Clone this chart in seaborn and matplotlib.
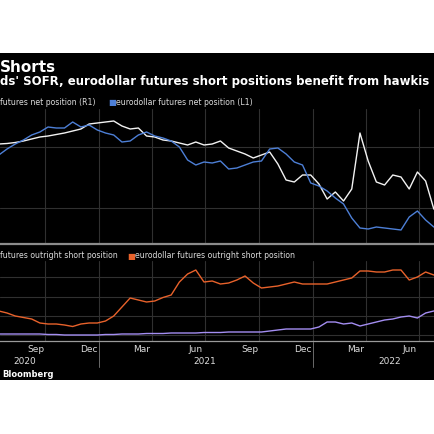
import pandas as pd
import matplotlib
matplotlib.use("Agg")
import matplotlib.pyplot as plt
import matplotlib.patches as mpatches
import matplotlib.transforms as mtransforms
import seaborn as sns

# ------------------------------------------------------------
# data (bi-weekly CFTC readings)
# ------------------------------------------------------------
dates = pd.date_range("2020-07-14", periods=55, freq="14D")

# top panel: net positions
sofr_net = [100, 100.5, 101.5, 103, 105, 107, 108, 109.5, 111, 113, 115, 120, 121, 122,
            123, 118, 115, 116, 108, 107, 104, 103, 101, 99, 102, 99, 100, 103, 96, 93,
            90, 86, 89, 92, 80, 64, 62, 69, 69, 60, 45, 52, 43, 55, 111, 83, 62, 59, 69,
            67, 55, 72, 63, 35, 31]
ed_net = [89, 95, 100, 104, 109, 112, 117, 116, 116, 122, 117, 119, 114, 111, 109, 102,
          103, 109, 112, 108, 106, 103, 97, 84, 79, 82, 81, 83, 75, 76, 79, 82, 83, 95,
          96, 90, 82, 79, 61, 58, 53, 46, 40, 26, 16, 15, 17, 16, 15, 14, 27, 33, 24, 17, 19]

# bottom panel: outright short positions
sofr_short = [7, 7, 7, 7, 7, 7, 6.5, 6.5, 6, 6, 6, 6, 6, 6.5, 6.5, 7, 7, 7, 7.5, 7.5, 7.5,
              8, 8, 8, 8, 8.5, 8.5, 8.5, 9, 9, 9, 9, 9, 10, 11, 12, 12, 12, 12, 14, 19, 19,
              17, 18, 15, 17, 19, 21, 22, 24, 25, 23, 28, 30, 31]
ed_short = [30, 28, 25, 23.5, 22, 18, 17, 17, 16, 14.5, 17, 18, 18, 20, 25, 34, 43, 41, 39,
            40, 43.5, 46, 59, 67, 71, 59, 60, 57, 58, 61, 65, 58, 53, 54, 55, 57, 59, 57,
            57, 57, 57, 59, 61, 63, 70, 70, 69, 69, 71, 71, 61, 64, 69, 66, 66]

top_grid = [36, 97]
bot_grid = [6, 25, 44.5, 64]

quarter_lines = pd.to_datetime(["2020-10-01", "2021-01-01", "2021-04-01", "2021-07-01",
                                "2021-10-01", "2022-01-01", "2022-04-01", "2022-07-01"])
month_labels = ["Sep", "Dec", "Mar", "Jun", "Sep", "Dec", "Mar", "Jun"]
month_label_dates = pd.to_datetime(["2020-09-15", "2020-12-15", "2021-03-15", "2021-06-15",
                                    "2021-09-15", "2021-12-15", "2022-03-15", "2022-06-15"])
year_labels = ["2020", "2021", "2022"]
year_label_dates = pd.to_datetime(["2020-08-28", "2021-07-01", "2022-05-12"])
year_breaks = pd.to_datetime(["2021-01-01", "2022-01-01"])
month_ticks = pd.date_range("2020-08-01", "2022-07-01", freq="MS")

x_min, x_max = pd.Timestamp("2020-07-16"), pd.Timestamp("2022-07-28")

# colours
BLUE = "#4d7fd6"
WHITE = "#f2f2f2"
ORANGE = "#e8622b"
PURPLE = "#a48ef2"
GRID = "#303030"
TXT = "#dcdcdc"

top_df = pd.DataFrame({"date": dates, "sofr": sofr_net, "ed": ed_net})
bot_df = pd.DataFrame({"date": dates, "sofr": sofr_short, "ed": ed_short})

# ------------------------------------------------------------
# figure
# ------------------------------------------------------------
sns.set_style("dark")
plt.rcParams['font.family'] = ['DejaVu Sans']

W = 435.0
fig = plt.figure(figsize=(4.35, 4.35), dpi=100)
fig.patch.set_facecolor("white")
fig.add_artist(mpatches.Rectangle((0, 1 - 381 / W), 1, 327 / W, transform=fig.transFigure,
                                  facecolor="black", edgecolor="none", zorder=0))

ax_top = fig.add_axes([0, 1 - 245 / W, 1, 135 / W])
ax_bot = fig.add_axes([0, 1 - 342 / W, 1, 80 / W])

for ax in (ax_top, ax_bot):
    ax.set_facecolor("black")
    ax.grid(False)
    for d in quarter_lines:
        ax.axvline(d, color=GRID, lw=0.8, zorder=1)
    for s in ("top", "left", "right"):
        ax.spines[s].set_visible(False)
    ax.set_yticks([])

for g in top_grid:
    ax_top.axhline(g, color=GRID, lw=0.8, zorder=1)
for g in bot_grid:
    ax_bot.axhline(g, color=GRID, lw=0.8, zorder=1)

sns.lineplot(data=top_df, x="date", y="sofr", ax=ax_top, color=WHITE, lw=1.0, zorder=3)
sns.lineplot(data=top_df, x="date", y="ed", ax=ax_top, color=BLUE, lw=1.0, zorder=3)
sns.lineplot(data=bot_df, x="date", y="sofr", ax=ax_bot, color=PURPLE, lw=1.0, zorder=3)
sns.lineplot(data=bot_df, x="date", y="ed", ax=ax_bot, color=ORANGE, lw=1.0, zorder=3)

ax_top.set_ylim(0, 135)
ax_bot.set_ylim(0, 80)
for ax in (ax_top, ax_bot):
    ax.set_xlim(x_min, x_max)
    ax.set_xlabel("")
    ax.set_ylabel("")

ax_top.set_xticks([])
ax_top.spines["bottom"].set_color("#8c8c8c")
ax_top.spines["bottom"].set_linewidth(1.6)

ax_bot.set_xticks(month_ticks)
ax_bot.set_xticklabels([])
ax_bot.tick_params(axis="x", direction="inout", length=3, width=0.6, color="#9a9a9a")
ax_bot.spines["bottom"].set_color("#9a9a9a")
ax_bot.spines["bottom"].set_linewidth(0.9)

# axis labels under the bottom panel
tr = mtransforms.blended_transform_factory(ax_bot.transData, fig.transFigure)
for lbl, d in zip(month_labels, month_label_dates):
    ax_bot.text(d, 1 - 350 / W, lbl, transform=tr, ha="center", va="center",
                fontsize=6.5, color=TXT, clip_on=False)
for lbl, d in zip(year_labels, year_label_dates):
    ax_bot.text(d, 1 - 362 / W, lbl, transform=tr, ha="center", va="center",
                fontsize=6.5, color=TXT, clip_on=False)
for d in year_breaks:
    ax_bot.plot([d, d], [1 - 343 / W, 1 - 368 / W], transform=tr, color="#6a6a6a",
                lw=0.7, clip_on=False)

# title block
fig.text(0, 1 - 67 / W, "Shorts", fontsize=11, fontweight="bold", color="white",
         ha="left", va="center")
fig.text(0, 1 - 81 / W, "ds' SOFR, eurodollar futures short positions benefit from hawkis",
         fontsize=8.5, fontweight="bold", color="white", ha="left", va="center")

# legends
fig.text(0, 1 - 103 / W, "futures net position (R1)", fontsize=5.6, color=TXT,
         ha="left", va="center")
fig.text(108 / W, 1 - 103 / W, "■", fontsize=6, color=BLUE, ha="left", va="center")
fig.text(116 / W, 1 - 103 / W, "eurodollar futures net position (L1)", fontsize=5.6,
         color=TXT, ha="left", va="center")

fig.text(0, 1 - 256 / W, "futures outright short position", fontsize=5.6, color=TXT,
         ha="left", va="center")
fig.text(127 / W, 1 - 256 / W, "■", fontsize=6, color=ORANGE, ha="left", va="center")
fig.text(135 / W, 1 - 256 / W, "eurodollar futures outright short position", fontsize=5.6,
         color=TXT, ha="left", va="center")

fig.text(2 / W, 1 - 375 / W, "Bloomberg", fontsize=6, fontweight="bold", color="white",
         ha="left", va="center")

fig.savefig("out.png", dpi=100, facecolor=fig.get_facecolor())
